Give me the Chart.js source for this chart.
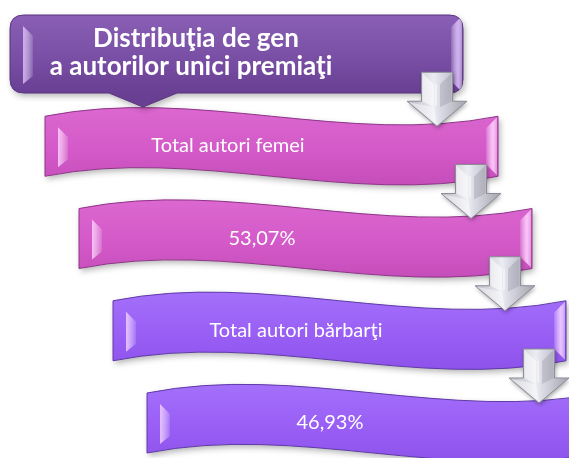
<!DOCTYPE html>
<html>
<head>
<meta charset="utf-8">
<script src="https://cdn.jsdelivr.net/npm/chart.js@4"></script>
<style>
  html, body { margin: 0; padding: 0; background: #ffffff; }
  #diagram { display: block; }
</style>
</head>
<body>
<canvas id="diagram" width="569" height="458"></canvas>
<script>
const titleLines = ["Distribuţia de gen", "a autorilor unici premiaţi"];
const groupNames = ["Total autori femei", "Total autori bărbarţi"];
const groupShares = [53.07, 46.93];

const formatShare = (v) => v.toFixed(2).replace(".", ",") + "%";

// one row per step of the flow: title, then name + share for each group
const rowLabels = [titleLines.join(" ")];
groupNames.forEach((name, i) => {
  rowLabels.push(name);
  rowLabels.push(formatShare(groupShares[i]));
});

const wavePath = (ctx, L, T, W, H, d) => {
  ctx.beginPath();
  ctx.moveTo(L, T);
  ctx.bezierCurveTo(L + W / 3, T - d, L + (2 * W) / 3, T + d, L + W, T);
  ctx.lineTo(L + W, T + H);
  ctx.bezierCurveTo(L + (2 * W) / 3, T + H + d, L + W / 3, T + H - d, L, T + H);
  ctx.closePath();
};

const titlePath = (ctx, L, T, R, B, r, notch) => {
  ctx.beginPath();
  ctx.moveTo(L + r, T);
  ctx.lineTo(R - r, T);
  ctx.quadraticCurveTo(R, T, R, T + r);
  ctx.lineTo(R, B - r);
  ctx.quadraticCurveTo(R, B, R - r, B);
  ctx.lineTo(notch.x + notch.w / 2, B);
  ctx.lineTo(notch.x, B + notch.h);
  ctx.lineTo(notch.x - notch.w / 2, B);
  ctx.lineTo(L + r, B);
  ctx.quadraticCurveTo(L, B, L, B - r);
  ctx.lineTo(L, T + r);
  ctx.quadraticCurveTo(L, T, L + r, T);
  ctx.closePath();
};

const bevelHighlights = (ctx, L, T, R, B, light) => {
  // left inner facet
  let g = ctx.createLinearGradient(L + 12, 0, L + 24, 0);
  g.addColorStop(0, light);
  g.addColorStop(1, "rgba(255,255,255,0.05)");
  ctx.fillStyle = g;
  ctx.beginPath();
  ctx.moveTo(L + 13, T + 11);
  ctx.lineTo(L + 23, T + 21);
  ctx.lineTo(L + 23, B - 17);
  ctx.lineTo(L + 13, B - 9);
  ctx.closePath();
  ctx.fill();
  // right outer facet
  g = ctx.createLinearGradient(R - 13, 0, R, 0);
  g.addColorStop(0, "rgba(255,255,255,0.0)");
  g.addColorStop(0.6, light);
  g.addColorStop(1, "rgba(255,255,255,0.25)");
  ctx.fillStyle = g;
  ctx.beginPath();
  ctx.moveTo(R - 12, T + 12);
  ctx.lineTo(R - 1, T + 1);
  ctx.lineTo(R - 1, B - 1);
  ctx.lineTo(R - 12, B - 12);
  ctx.closePath();
  ctx.fill();
};

const drawArrow = (ctx, tx, ty) => {
  const sw = 15.5, hw = 30, len = 54, sh = 25;
  ctx.save();
  ctx.shadowColor = "rgba(0,0,0,0.35)";
  ctx.shadowBlur = 4;
  ctx.shadowOffsetX = 1;
  ctx.shadowOffsetY = 2;
  ctx.beginPath();
  ctx.moveTo(tx - sw, ty - len);
  ctx.lineTo(tx + sw, ty - len);
  ctx.lineTo(tx + sw, ty - sh);
  ctx.lineTo(tx + hw, ty - sh);
  ctx.lineTo(tx, ty);
  ctx.lineTo(tx - hw, ty - sh);
  ctx.lineTo(tx - sw, ty - sh);
  ctx.closePath();
  const g = ctx.createLinearGradient(tx - hw, 0, tx + hw, 0);
  g.addColorStop(0, "#b9b9c4");
  g.addColorStop(0.45, "#ececf3");
  g.addColorStop(0.55, "#dcdce6");
  g.addColorStop(1, "#a3a3ae");
  ctx.fillStyle = g;
  ctx.fill();
  ctx.restore();
  ctx.strokeStyle = "#8d8d98";
  ctx.lineWidth = 1;
  ctx.stroke();
  // bevel facets of the stem and head
  ctx.fillStyle = "rgba(255,255,255,0.55)";
  ctx.beginPath();
  ctx.moveTo(tx - sw + 1, ty - len + 1);
  ctx.lineTo(tx - 3, ty - len + 12);
  ctx.lineTo(tx - 3, ty - sh + 6);
  ctx.lineTo(tx - sw + 1, ty - sh);
  ctx.closePath();
  ctx.fill();
  ctx.fillStyle = "rgba(120,120,135,0.25)";
  ctx.beginPath();
  ctx.moveTo(tx + sw - 1, ty - len + 1);
  ctx.lineTo(tx + 3, ty - len + 12);
  ctx.lineTo(tx + 3, ty - sh + 6);
  ctx.lineTo(tx + sw - 1, ty - sh);
  ctx.closePath();
  ctx.fill();
  ctx.fillStyle = "rgba(255,255,255,0.45)";
  ctx.beginPath();
  ctx.moveTo(tx - hw + 2, ty - sh + 1);
  ctx.lineTo(tx - 3, ty - sh + 6);
  ctx.lineTo(tx, ty - 2);
  ctx.closePath();
  ctx.fill();
  ctx.strokeStyle = "rgba(255,255,255,0.9)";
  ctx.beginPath();
  ctx.moveTo(tx - 1, ty - len + 12);
  ctx.lineTo(tx - 1, ty - sh + 4);
  ctx.stroke();
};

const flowPlugin = {
  id: "flow",
  afterDatasetsDraw(chart, args, opts) {
    const ctx = chart.ctx;
    const yScale = chart.scales.y;
    const rows = chart.data.labels;
    const lefts = rows.map((_, i) => opts.firstLeft + (i - 1) * opts.indent);

    ctx.save();
    // banners for the steps
    for (let i = 1; i < rows.length; i++) {
      const cy = yScale.getPixelForValue(i);
      const L = lefts[i];
      const T = cy - opts.bannerHeight / 2;
      const W = opts.bannerWidth;
      const H = opts.bannerHeight;
      const c = opts.colors[i <= 2 ? 0 : 1];
      ctx.save();
      ctx.shadowColor = "rgba(0,0,0,0.3)";
      ctx.shadowBlur = 6;
      ctx.shadowOffsetX = 2;
      ctx.shadowOffsetY = 3;
      wavePath(ctx, L, T, W, H, opts.wave);
      const g = ctx.createLinearGradient(0, T - 10, 0, T + H + 10);
      g.addColorStop(0, c.top);
      g.addColorStop(0.5, c.mid);
      g.addColorStop(1, c.bottom);
      ctx.fillStyle = g;
      ctx.fill();
      ctx.restore();
      ctx.strokeStyle = c.edge;
      ctx.lineWidth = 1;
      wavePath(ctx, L, T, W, H, opts.wave);
      ctx.stroke();
      ctx.save();
      wavePath(ctx, L, T, W, H, opts.wave);
      ctx.clip();
      bevelHighlights(ctx, L, T, L + W, T + H, c.light);
      ctx.restore();

      ctx.fillStyle = "#ffffff";
      ctx.font = opts.bodyFont;
      ctx.textAlign = "center";
      ctx.textBaseline = "alphabetic";
      ctx.fillText(rows[i], L + opts.textOffset, cy + 6);
    }

    // title callout
    const cy0 = yScale.getPixelForValue(0);
    const tL = opts.titleLeft, tR = opts.titleLeft + opts.titleWidth;
    const tT = cy0 - opts.titleHeight / 2, tB = cy0 + opts.titleHeight / 2;
    const notch = { x: tL + 133, w: 68, h: 14 };
    ctx.save();
    ctx.shadowColor = "rgba(0,0,0,0.3)";
    ctx.shadowBlur = 6;
    ctx.shadowOffsetX = 2;
    ctx.shadowOffsetY = 3;
    titlePath(ctx, tL, tT, tR, tB, 14, notch);
    const tg = ctx.createLinearGradient(0, tT, 0, tB);
    tg.addColorStop(0, "#8a5fb5");
    tg.addColorStop(0.5, "#7a51a6");
    tg.addColorStop(1, "#693f94");
    ctx.fillStyle = tg;
    ctx.fill();
    ctx.restore();
    ctx.strokeStyle = "#5a3580";
    ctx.lineWidth = 1;
    titlePath(ctx, tL, tT, tR, tB, 14, notch);
    ctx.stroke();
    ctx.save();
    titlePath(ctx, tL, tT, tR, tB, 14, notch);
    ctx.clip();
    bevelHighlights(ctx, tL, tT, tR, tB, "rgba(214,180,250,0.95)");
    ctx.restore();

    ctx.fillStyle = "#ffffff";
    ctx.font = opts.titleFont;
    ctx.textAlign = "center";
    ctx.fillText(titleLines[0], tL + opts.textOffset + 3, cy0 - 7);
    ctx.fillText(titleLines[1], tL + opts.textOffset - 2, cy0 + 21);

    // arrows linking each step to the next one
    for (let i = 1; i < rows.length; i++) {
      const tipY = yScale.getPixelForValue(i) - 20;
      drawArrow(ctx, lefts[i] + opts.arrowOffset, tipY);
    }
    ctx.restore();
  }
};

new Chart(document.getElementById("diagram"), {
  type: "bar",
  data: {
    labels: rowLabels,
    datasets: [
      {
        data: rowLabels.map(() => 1),
        backgroundColor: "rgba(0,0,0,0)",
        borderWidth: 0
      }
    ]
  },
  options: {
    indexAxis: "y",
    responsive: false,
    animation: false,
    layout: { padding: { top: 54, bottom: 35, left: 0, right: 0 } },
    scales: {
      x: { display: false, min: 0, max: 1 },
      y: { display: false, offset: false }
    },
    plugins: {
      legend: { display: false },
      tooltip: { enabled: false },
      flow: {
        firstLeft: 45,
        indent: 34,
        bannerWidth: 453,
        bannerHeight: 60,
        wave: 30,
        textOffset: 183,
        arrowOffset: 392,
        titleLeft: 10,
        titleWidth: 453,
        titleHeight: 78,
        titleFont: "bold 26px Lato",
        bodyFont: "20px Lato",
        colors: [
          { top: "#dc68d0", mid: "#d45bc9", bottom: "#c54dba", edge: "#8f3488", light: "rgba(255,200,255,0.95)" },
          { top: "#a470fa", mid: "#9a60f6", bottom: "#8c52ea", edge: "#5f3aa8", light: "rgba(240,200,255,0.95)" }
        ]
      }
    }
  },
  plugins: [flowPlugin]
});
</script>
</body>
</html>
